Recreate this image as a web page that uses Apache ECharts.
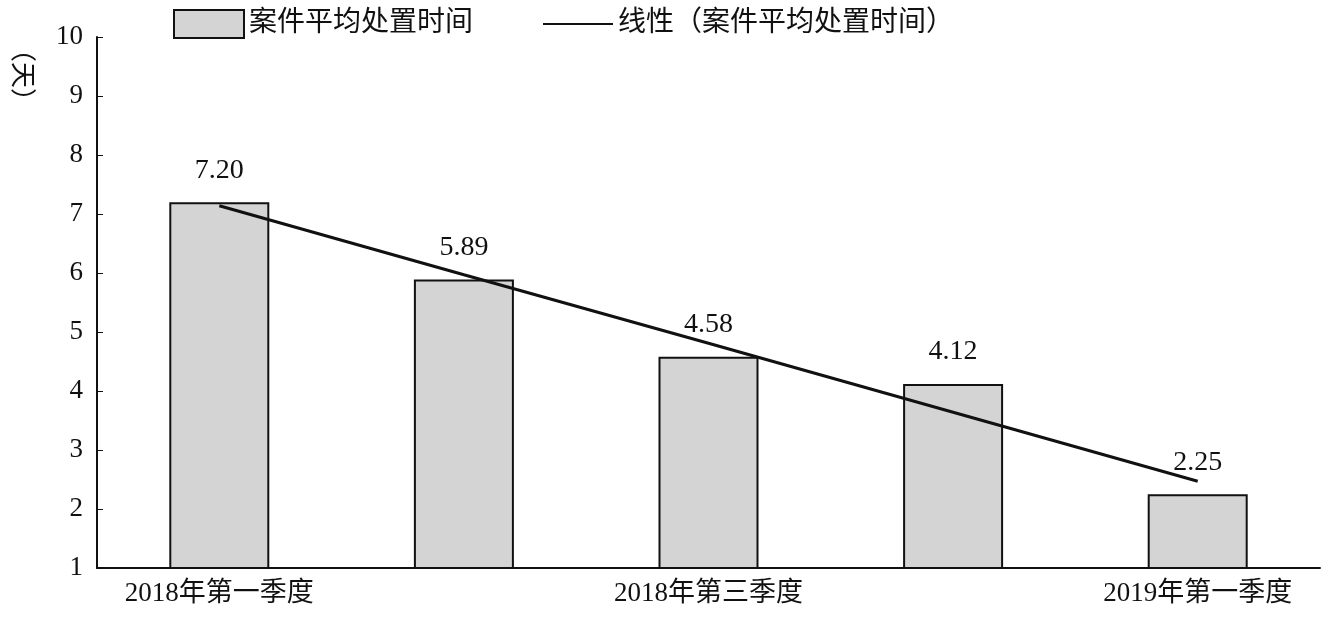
<!DOCTYPE html>
<html>
<head>
<meta charset="utf-8">
<script src="https://cdn.jsdelivr.net/npm/echarts@6/dist/echarts.min.js"></script>
<style>
  html, body { margin: 0; padding: 0; background: #fff; }
  #chart { width: 1336px; height: 621px; }
</style>
</head>
<body>
<div id="chart"></div>
<script>
// Data
const categories = ['2018年第一季度', '2018年第二季度', '2018年第三季度', '2018年第四季度', '2019年第一季度'];
const avgDays = [7.20, 5.89, 4.58, 4.12, 2.25];
const trendDays = [7.14, 5.97, 4.81, 3.64, 2.47];
const yTicks = { min: 1, max: 10, interval: 1 };

const font = '"Liberation Serif", "Noto Sans CJK SC", serif';
const chart = echarts.init(document.getElementById('chart'));

chart.setOption({
  animation: false,
  textStyle: { fontFamily: font, color: '#111' },
  legend: {
    top: 4,
    left: 168,
    itemGap: 70,
    itemWidth: 70,
    itemHeight: 28,
    textStyle: { fontSize: 28, fontFamily: font, color: '#111' },
    data: [
      { name: '案件平均处置时间', icon: 'rect' },
      { name: '线性（案件平均处置时间）', icon: 'path://M0,0L100,0L100,3L0,3Z' }
    ]
  },
  graphic: [{
    type: 'text',
    left: 8,
    top: 36,
    rotation: -Math.PI / 2,
    style: { text: '（天）', font: '26px ' + font, fill: '#111' }
  }],
  grid: { left: 97, right: 16, top: 37, bottom: 53, containLabel: false, outerBoundsMode: 'none' },
  xAxis: {
    type: 'category',
    data: categories,
    axisLine: { lineStyle: { color: '#111', width: 2 } },
    axisTick: { show: false },
    axisLabel: { fontSize: 27, color: '#111', fontFamily: font, margin: 12 }
  },
  yAxis: {
    type: 'value',
    min: yTicks.min,
    max: yTicks.max,
    interval: yTicks.interval,
    axisLine: { show: true, lineStyle: { color: '#111', width: 2 } },
    axisTick: { show: true, inside: true, length: 6, lineStyle: { color: '#111' } },
    splitLine: { show: false },
    axisLabel: { fontSize: 27, color: '#111', fontFamily: font, margin: 14 }
  },
  series: [
    {
      name: '案件平均处置时间',
      type: 'bar',
      data: avgDays,
      barWidth: 100,
      itemStyle: { color: '#d4d4d4', borderColor: '#111', borderWidth: 2 },
      label: {
        show: true,
        position: 'top',
        distance: 18,
        fontSize: 28,
        fontFamily: font,
        color: '#111',
        formatter: p => p.value.toFixed(2)
      }
    },
    {
      name: '线性（案件平均处置时间）',
      type: 'line',
      data: trendDays,
      symbol: 'none',
      lineStyle: { color: '#111', width: 3 },
      itemStyle: { color: '#111' },
      z: 5
    }
  ]
});
</script>
</body>
</html>
